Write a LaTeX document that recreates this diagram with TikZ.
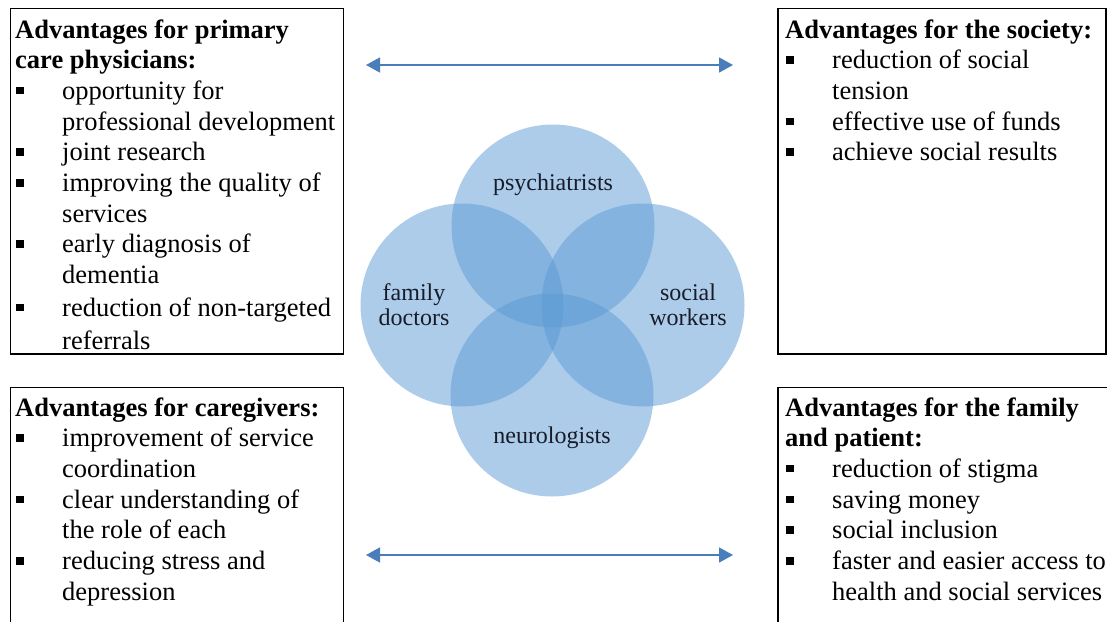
\documentclass[tikz,border=0pt]{standalone}
\usepackage{fontspec}
\setmainfont{Liberation Serif}
\usetikzlibrary{arrows.meta}

\definecolor{venn}{RGB}{91,155,213}
\definecolor{arrowblue}{RGB}{74,126,187}
\definecolor{labelink}{RGB}{24,28,42}

% square bullet followed by a hanging-indent item
\newcommand{\bulletsq}{\makebox[47pt][l]{\hspace{1pt}\raisebox{5pt}{\rule{7.5pt}{7.5pt}}}}
\newcommand{\advitem}[1]{\par\hangindent=47pt\hangafter=1\noindent\bulletsq #1}
\newcommand{\nl}{\hfil\break}
\newcommand{\advtext}[1]{\parbox[t]{420pt}{\fontsize{26.5}{30.7}\selectfont\parindent0pt\parskip0pt #1}}
\newcommand{\vennlabel}[1]{\fontsize{24}{25}\selectfont\begin{tabular}[t]{@{}c@{}}#1\end{tabular}}

\tikzset{
  frame/.style={draw=black, line width=1.4pt},
  boxtext/.style={inner sep=0pt, anchor=base west},
  vennfill/.style={fill=venn, fill opacity=0.5},
  vennlbl/.style={inner sep=0pt, anchor=base, text=labelink},
  link/.style={draw=arrowblue, line width=1.6pt,
    {Triangle[length=14pt,width=15pt]}-{Triangle[length=14pt,width=15pt]}}
}

\begin{document}
\begin{tikzpicture}[x=1pt,y=-1pt]
\useasboundingbox (0,0) rectangle (1107,621);
\fill[white] (0,0) rectangle (1107,621);

% frames of the four text panels
\draw[frame] (10.5,8.5) rectangle (343.5,354);
\draw[frame] (778,8.5) rectangle (1106,354);
\draw[frame] (10.5,625) -- (10.5,387.5) -- (343.5,387.5) -- (343.5,625);
\draw[frame] (778,625) -- (778,387.5) -- (1110,387.5);

% panel texts
\node[boxtext] (physicians) at (15,38) {\advtext{%
  \noindent\textbf{Advantages for primary\nl care physicians:}
  \advitem{opportunity for\nl professional development}
  \advitem{joint research}
  \advitem{improving the quality of\nl services}
  \advitem{early diagnosis of\nl dementia}
  \par\vspace{2pt}%
  \advitem{reduction of non-targeted\vadjust{\vskip 2pt}\nl referrals}}};

\node[boxtext] (society) at (785,38) {\advtext{%
  \noindent\textbf{Advantages for the society:}
  \advitem{reduction of social\nl tension}
  \advitem{effective use of funds}
  \advitem{achieve social results}}};

\node[boxtext] (caregivers) at (15,416) {\advtext{%
  \noindent\textbf{Advantages for caregivers:}
  \advitem{improvement of service\nl coordination}
  \advitem{clear understanding of\nl the role of each}
  \advitem{reducing stress and\nl depression}}};

\node[boxtext] (patient) at (785,416) {\advtext{%
  \noindent\textbf{Advantages for the family\nl and patient:}
  \advitem{reduction of stigma}
  \advitem{saving money}
  \advitem{social inclusion}
  \advitem{faster and easier access to\nl health and social services}}};

% four overlapping circles
\fill[vennfill] (553,226) circle (101.5);
\fill[vennfill] (462,305) circle (101.5);
\fill[vennfill] (643,305) circle (101.5);
\fill[vennfill] (552,395) circle (101.5);

\node[vennlbl] (psy) at (553,190) {\vennlabel{psychiatrists}};
\node[vennlbl] (fam) at (414,300) {\vennlabel{family\\doctors}};
\node[vennlbl] (soc) at (688,300) {\vennlabel{social\\workers}};
\node[vennlbl] (neu) at (552,443) {\vennlabel{neurologists}};

% double-headed links between the panels
\coordinate (topL) at (366,65);
\coordinate (topR) at (733,65);
\coordinate (botL) at (366,555);
\coordinate (botR) at (733,555);
\draw[link] (topL) -- (topR);
\draw[link] (botL) -- (botR);
\end{tikzpicture}
\end{document}
